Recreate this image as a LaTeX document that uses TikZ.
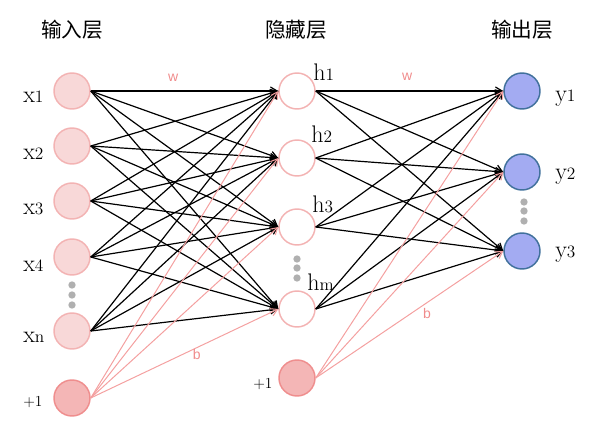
\documentclass[tikz,border=0pt]{standalone}
\usepackage{fontspec}
\newfontfamily\cjk{Noto Sans CJK SC}
\newfontfamily\lsans{Liberation Sans}
\usetikzlibrary{arrows.meta}
\definecolor{infill}{HTML}{F8D8D8}
\definecolor{indraw}{HTML}{F3B3B3}
\definecolor{biasfill}{HTML}{F4B6B6}
\definecolor{biasdraw}{HTML}{EF8E8E}
\definecolor{outfill}{HTML}{A3ABF2}
\definecolor{outdraw}{HTML}{41719C}
\definecolor{pinkline}{HTML}{F4A0A0}
\definecolor{pinktext}{HTML}{F08C8C}
\definecolor{dotgray}{HTML}{B0B0B0}
\newcommand{\nnlab}[2]{{\fontsize{18}{18}\selectfont #1}{\fontsize{13}{13}\selectfont #2}}
\begin{document}
\begin{tikzpicture}[x=0.75pt,y=-0.75pt,
  neuron/.style={circle,inner sep=0pt,minimum size=27pt,line width=1.1pt},
  innode/.style={neuron,fill=infill,draw=indraw},
  biasnode/.style={neuron,fill=biasfill,draw=biasdraw},
  hidnode/.style={neuron,fill=white,draw=indraw},
  outnode/.style={neuron,fill=outfill,draw=outdraw},
  wedge/.style={draw=black,line width=0.9pt,-{Straight Barb[length=5pt,width=6pt]}},
  bedge/.style={draw=pinkline,line width=0.75pt,-{Straight Barb[length=5pt,width=6pt]}},
  title/.style={font=\cjk\fontsize{15.5}{15.5}\selectfont,inner sep=0pt},
  lab/.style={inner sep=0pt,anchor=base west},
  plab/.style={inner sep=0pt,text=pinktext,font=\lsans\fontsize{10.5}{10.5}\selectfont},
  dot/.style={circle,fill=dotgray,inner sep=0pt,minimum size=5.5pt}]
\useasboundingbox (0,0) rectangle (596,427);

% titles
\node[title] (t1) at (72,30) {输入层};
\node[title] (t2) at (296,30) {隐藏层};
\node[title] (t3) at (522,30) {输出层};

% input layer
\node[innode] (i1) at (72,91) {};
\node[innode] (i2) at (72,146) {};
\node[innode] (i3) at (72,201) {};
\node[innode] (i4) at (72,257) {};
\node[innode] (in) at (72,331) {};
\node[biasnode] (ib) at (72,398) {};
\node[dot] (id1) at (72,285) {};
\node[dot] (id2) at (72,295) {};
\node[dot] (id3) at (72,305) {};

% hidden layer
\node[hidnode] (h1) at (297,91) {};
\node[hidnode] (h2) at (297,158) {};
\node[hidnode] (h3) at (297,227) {};
\node[hidnode] (hm) at (297,309) {};
\node[biasnode] (hb) at (297,378) {};
\node[dot] (hd1) at (297,259) {};
\node[dot] (hd2) at (297,268) {};
\node[dot] (hd3) at (297,278) {};

% output layer
\node[outnode] (y1) at (522,91) {};
\node[outnode] (y2) at (522,172) {};
\node[outnode] (y3) at (522,251) {};
\node[dot] (od1) at (524,202) {};
\node[dot] (od2) at (524,211) {};
\node[dot] (od3) at (524,221) {};

% labels
\node[lab] (lx1) at (23,103) {\nnlab{x}{1}};
\node[lab] (lx2) at (23,160) {\nnlab{x}{2}};
\node[lab] (lx3) at (23,215) {\nnlab{x}{3}};
\node[lab] (lx4) at (23,271.5) {\nnlab{x}{4}};
\node[lab] (lxn) at (23,343) {\nnlab{x}{n}};
\node[lab] (lib) at (23,406.5) {{\fontsize{11.5}{11.5}\selectfont +1}};
\node[lab] (lh1) at (313,80.5) {\nnlab{h}{1}};
\node[lab] (lh2) at (311,142.5) {\nnlab{h}{2}};
\node[lab] (lh3) at (312,213) {\nnlab{h}{3}};
\node[lab] (lhm) at (307,291) {\nnlab{h}{m}};
\node[lab] (lhb) at (253,388) {{\fontsize{11.5}{11.5}\selectfont +1}};
\node[lab] (ly1) at (555,101.5) {\nnlab{y}{1}};
\node[lab] (ly2) at (555,180) {\nnlab{y}{2}};
\node[lab] (ly3) at (555,258) {\nnlab{y}{3}};

% input -> hidden
\foreach \i in {i1,i2,i3,i4,in}{
  \foreach \j in {h1,h2,h3,hm}{
    \draw[wedge] (\i.east) -- (\j.west);
  }
}
\foreach \j in {h1,h2,h3}{
  \draw[bedge] (ib.east) -- (\j.west);
}
\draw[bedge] (ib.east) -- node[plab,pos=0.566,yshift=-5.5pt] (b1) {b} (hm.west);
\path (i1.east) -- node[plab,pos=0.44,yshift=10pt] (w1) {w} (h1.west);

% hidden -> output
\foreach \i in {h1,h2,h3,hm}{
  \foreach \j in {y1,y2,y3}{
    \draw[wedge] (\i.east) -- (\j.west);
  }
}
\foreach \j in {y1,y2}{
  \draw[bedge] (hb.east) -- (\j.west);
}
\draw[bedge] (hb.east) -- node[plab,pos=0.593,yshift=-8.3pt] (b2) {b} (y3.west);
\path (h1.east) -- node[plab,pos=0.487,yshift=11pt] (w2) {w} (y1.west);
\end{tikzpicture}
\end{document}
